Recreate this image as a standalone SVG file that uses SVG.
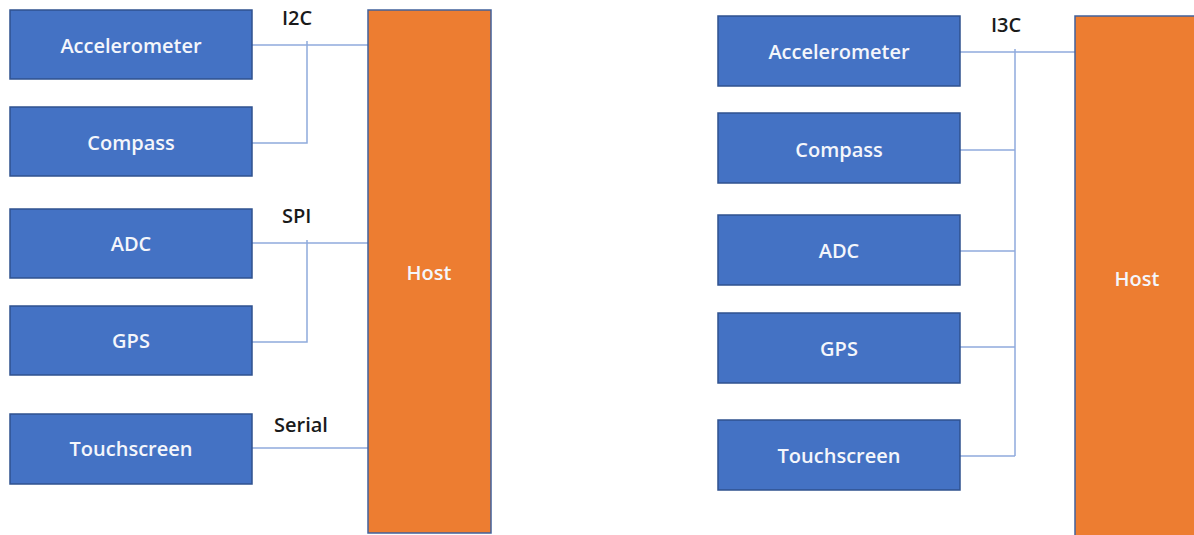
<svg xmlns="http://www.w3.org/2000/svg" width="1194" height="535" viewBox="0 0 1194 535">
  <style>
    .dev { fill: #4472C4; stroke: #2F528F; stroke-width: 1.5; }
    .host { fill: #ED7D31; stroke: #41619C; stroke-width: 1.5; }
    .lbl { font-family: "Open Sans", "Noto Sans", sans-serif; font-size: 20px; font-weight: 600; fill: #F4F6FB; text-anchor: middle; dominant-baseline: central; }
    .bus { font-family: "Open Sans", "Noto Sans", sans-serif; font-size: 20px; font-weight: 600; fill: #1A1A1A; }
    .wire { fill: none; stroke: #8FAADC; stroke-width: 1.5; }
  </style>
  <rect width="1194" height="535" fill="#FFFFFF"/>

  <!-- Separate buses: I2C, SPI, Serial -->
  <g id="connectors-left">
    <path class="wire" d="M252 45 H368"/>
    <path class="wire" d="M307 41 V143 H252"/>
    <path class="wire" d="M252 243 H368"/>
    <path class="wire" d="M307 240 V342 H252"/>
    <path class="wire" d="M252 448 H368"/>
  </g>
  <g id="bus-labels-left">
    <text class="bus" x="282" y="25">I2C</text>
    <text class="bus" x="282" y="223">SPI</text>
    <text class="bus" x="274" y="432">Serial</text>
  </g>

  <g id="l-accelerometer"><rect class="dev" x="10" y="10" width="242" height="69"/><text class="lbl" x="131" y="45">Accelerometer</text></g>
  <g id="l-compass"><rect class="dev" x="10" y="107" width="242" height="69"/><text class="lbl" x="131" y="142">Compass</text></g>
  <g id="l-adc"><rect class="dev" x="10" y="209" width="242" height="69"/><text class="lbl" x="131" y="243">ADC</text></g>
  <g id="l-gps"><rect class="dev" x="10" y="306" width="242" height="69"/><text class="lbl" x="131" y="340">GPS</text></g>
  <g id="l-touchscreen"><rect class="dev" x="10" y="414" width="242" height="70"/><text class="lbl" x="131" y="448">Touchscreen</text></g>
  <g id="l-host"><rect class="host" x="368" y="10" width="123" height="523"/><text class="lbl" x="429" y="272">Host</text></g>

  <!-- Shared I3C bus -->
  <g id="connectors-right">
    <path class="wire" d="M960 52 H1075"/>
    <path class="wire" d="M1015 49 V456"/>
    <path class="wire" d="M960 150 H1015"/>
    <path class="wire" d="M960 251 H1015"/>
    <path class="wire" d="M960 347 H1015"/>
    <path class="wire" d="M960 456 H1015"/>
  </g>
  <g id="bus-labels-right">
    <text class="bus" x="991" y="32">I3C</text>
  </g>

  <g id="r-accelerometer"><rect class="dev" x="718" y="16" width="242" height="70"/><text class="lbl" x="839" y="51">Accelerometer</text></g>
  <g id="r-compass"><rect class="dev" x="718" y="113" width="242" height="70"/><text class="lbl" x="839" y="149">Compass</text></g>
  <g id="r-adc"><rect class="dev" x="718" y="215" width="242" height="70"/><text class="lbl" x="839" y="250">ADC</text></g>
  <g id="r-gps"><rect class="dev" x="718" y="313" width="242" height="70"/><text class="lbl" x="839" y="348">GPS</text></g>
  <g id="r-touchscreen"><rect class="dev" x="718" y="420" width="242" height="70"/><text class="lbl" x="839" y="455">Touchscreen</text></g>
  <g id="r-host"><rect class="host" x="1075" y="16" width="130" height="530"/><text class="lbl" x="1137" y="278">Host</text></g>
</svg>
